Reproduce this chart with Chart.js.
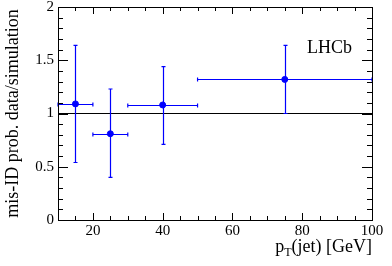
<!DOCTYPE html>
<html>
<head>
<meta charset="utf-8">
<script src="https://cdn.jsdelivr.net/npm/chart.js@4/dist/chart.umd.min.js"></script>
<style>
  html, body { margin: 0; padding: 0; background: #fff; }
  #wrap { width: 392px; height: 266px; }
</style>
</head>
<body>
<div id="wrap"><canvas id="misidChart" width="392" height="266"></canvas></div>
<script>
// bins in pT(jet) and measured ratio data/simulation
var binCentre = [15, 25, 40, 75];
var binLow = [10, 20, 30, 50];
var binHigh = [20, 30, 50, 100];
var ratio = [1.09, 0.81, 1.08, 1.32];
var ratioUp = [1.64, 1.23, 1.44, 1.64];
var ratioDown = [0.54, 0.40, 0.71, 1.00];
var xRange = [10, 100];
var yRange = [0, 2];
var xLabelTicks = [20, 40, 60, 80, 100];
var yLabelTicks = [0, 0.5, 1, 1.5, 2];

var serif = "'Liberation Serif', 'DejaVu Serif', serif";
var blue = 'rgb(0,0,255)';

function isLabelled(v, list) {
    return list.some(function (t) { return Math.abs(t - v) < 1e-6; });
}

var errorBars = {
    id: 'errorBars',
    afterDatasetsDraw: function (chart) {
        var ctx = chart.ctx;
        var xs = chart.scales.x, ys = chart.scales.y;
        ctx.save();
        ctx.strokeStyle = blue;
        ctx.lineWidth = 1.2;
        for (var i = 0; i < ratio.length; i++) {
            var xc = Math.round(xs.getPixelForValue(binCentre[i])) + 0.5;
            var yc = Math.round(ys.getPixelForValue(ratio[i])) + 0.5;
            var x0 = xs.getPixelForValue(binLow[i]);
            var x1 = xs.getPixelForValue(binHigh[i]);
            var y0 = ys.getPixelForValue(ratioDown[i]);
            var y1 = ys.getPixelForValue(ratioUp[i]);
            ctx.beginPath();
            ctx.moveTo(x0, yc); ctx.lineTo(x1, yc);
            ctx.moveTo(xc, y0); ctx.lineTo(xc, y1);
            // small end caps
            ctx.moveTo(x0, yc - 2); ctx.lineTo(x0, yc + 2);
            ctx.moveTo(x1, yc - 2); ctx.lineTo(x1, yc + 2);
            ctx.moveTo(xc - 2, y0); ctx.lineTo(xc + 2, y0);
            ctx.moveTo(xc - 2, y1); ctx.lineTo(xc + 2, y1);
            ctx.stroke();
        }
        ctx.restore();
    }
};

var frameAndText = {
    id: 'frameAndText',
    afterDraw: function (chart) {
        var ctx = chart.ctx;
        var a = chart.chartArea;
        var xs = chart.scales.x, ys = chart.scales.y;
        ctx.save();
        ctx.strokeStyle = '#000';
        ctx.lineWidth = 1;
        ctx.strokeRect(Math.round(a.left) + 0.5, Math.round(a.top) + 0.5,
            Math.round(a.right - a.left), Math.round(a.bottom - a.top));

        // inward ticks on all four sides
        ctx.beginPath();
        xs.ticks.forEach(function (t) {
            var px = Math.round(xs.getPixelForValue(t.value)) + 0.5;
            var len = isLabelled(t.value, xLabelTicks) ? 7 : 4;
            ctx.moveTo(px, a.bottom); ctx.lineTo(px, a.bottom - len);
            ctx.moveTo(px, a.top); ctx.lineTo(px, a.top + len);
        });
        ys.ticks.forEach(function (t) {
            var py = Math.round(ys.getPixelForValue(t.value)) + 0.5;
            var len = isLabelled(t.value, yLabelTicks) ? 10 : 5;
            ctx.moveTo(a.left, py); ctx.lineTo(a.left + len, py);
            ctx.moveTo(a.right, py); ctx.lineTo(a.right - len, py);
        });
        ctx.stroke();

        // LHCb label
        ctx.fillStyle = '#000';
        ctx.font = '18px ' + serif;
        ctx.textAlign = 'left';
        ctx.textBaseline = 'alphabetic';
        ctx.fillText('LHCb', 307, 53);

        // x axis title with subscript, right aligned to the frame
        var big = '18px ' + serif, small = '12px ' + serif;
        ctx.font = big;
        var rest = '(jet) [GeV]';
        var wRest = ctx.measureText(rest).width;
        var wP = ctx.measureText('p').width;
        ctx.font = small;
        var wT = ctx.measureText('T').width;
        var base = 252;
        var x0 = a.right - wRest - wT - wP;
        ctx.font = big;
        ctx.fillText('p', x0, base);
        ctx.font = small;
        ctx.fillText('T', x0 + wP, base + 4);
        ctx.font = big;
        ctx.fillText(rest, x0 + wP + wT, base);
        ctx.restore();
    }
};

var ctx = document.getElementById('misidChart').getContext('2d');

new Chart(ctx, {
    type: 'scatter',
    data: {
        datasets: [{
            label: 'unity',
            type: 'line',
            data: xRange.map(function (x) { return { x: x, y: 1 }; }),
            borderColor: '#000',
            borderWidth: 1,
            pointRadius: 0,
            order: 2
        }, {
            label: 'mis-ID ratio',
            data: binCentre.map(function (x, i) { return { x: x, y: ratio[i] }; }),
            backgroundColor: blue,
            borderColor: blue,
            pointRadius: 3,
            pointHoverRadius: 3,
            order: 1
        }]
    },
    options: {
        responsive: false,
        animation: false,
        events: [],
        layout: { padding: { top: 7, right: 20, left: 0, bottom: 0 } },
        plugins: {
            legend: { display: false },
            tooltip: { enabled: false }
        },
        scales: {
            x: {
                type: 'linear',
                min: xRange[0],
                max: xRange[1],
                afterFit: function (scale) {
                    scale.height = 46;
                    scale.paddingLeft = 0;
                    scale.paddingRight = 0;
                },
                grid: { display: false, drawTicks: false, tickLength: 0 },
                border: { display: false },
                ticks: {
                    stepSize: 5,
                    autoSkip: false,
                    maxRotation: 0,
                    padding: 2,
                    color: '#000',
                    font: { family: serif, size: 15 },
                    callback: function (v) {
                        return isLabelled(v, xLabelTicks) ? String(v) : '';
                    }
                }
            },
            y: {
                type: 'linear',
                min: yRange[0],
                max: yRange[1],
                afterFit: function (scale) {
                    scale.width = 58;
                    scale.paddingTop = 0;
                    scale.paddingBottom = 0;
                },
                grid: { display: false, drawTicks: false, tickLength: 0 },
                border: { display: false },
                ticks: {
                    stepSize: 0.1,
                    autoSkip: false,
                    padding: 4,
                    color: '#000',
                    font: { family: serif, size: 15 },
                    callback: function (v) {
                        var r = Math.round(v * 10) / 10;
                        return isLabelled(r, yLabelTicks) ? String(r) : '';
                    }
                },
                title: {
                    display: true,
                    text: 'mis-ID prob. data/simulation',
                    color: '#000',
                    font: { family: serif, size: 18 },
                    padding: { top: 2, bottom: 0 }
                }
            }
        }
    },
    plugins: [errorBars, frameAndText]
});
</script>
</body>
</html>
